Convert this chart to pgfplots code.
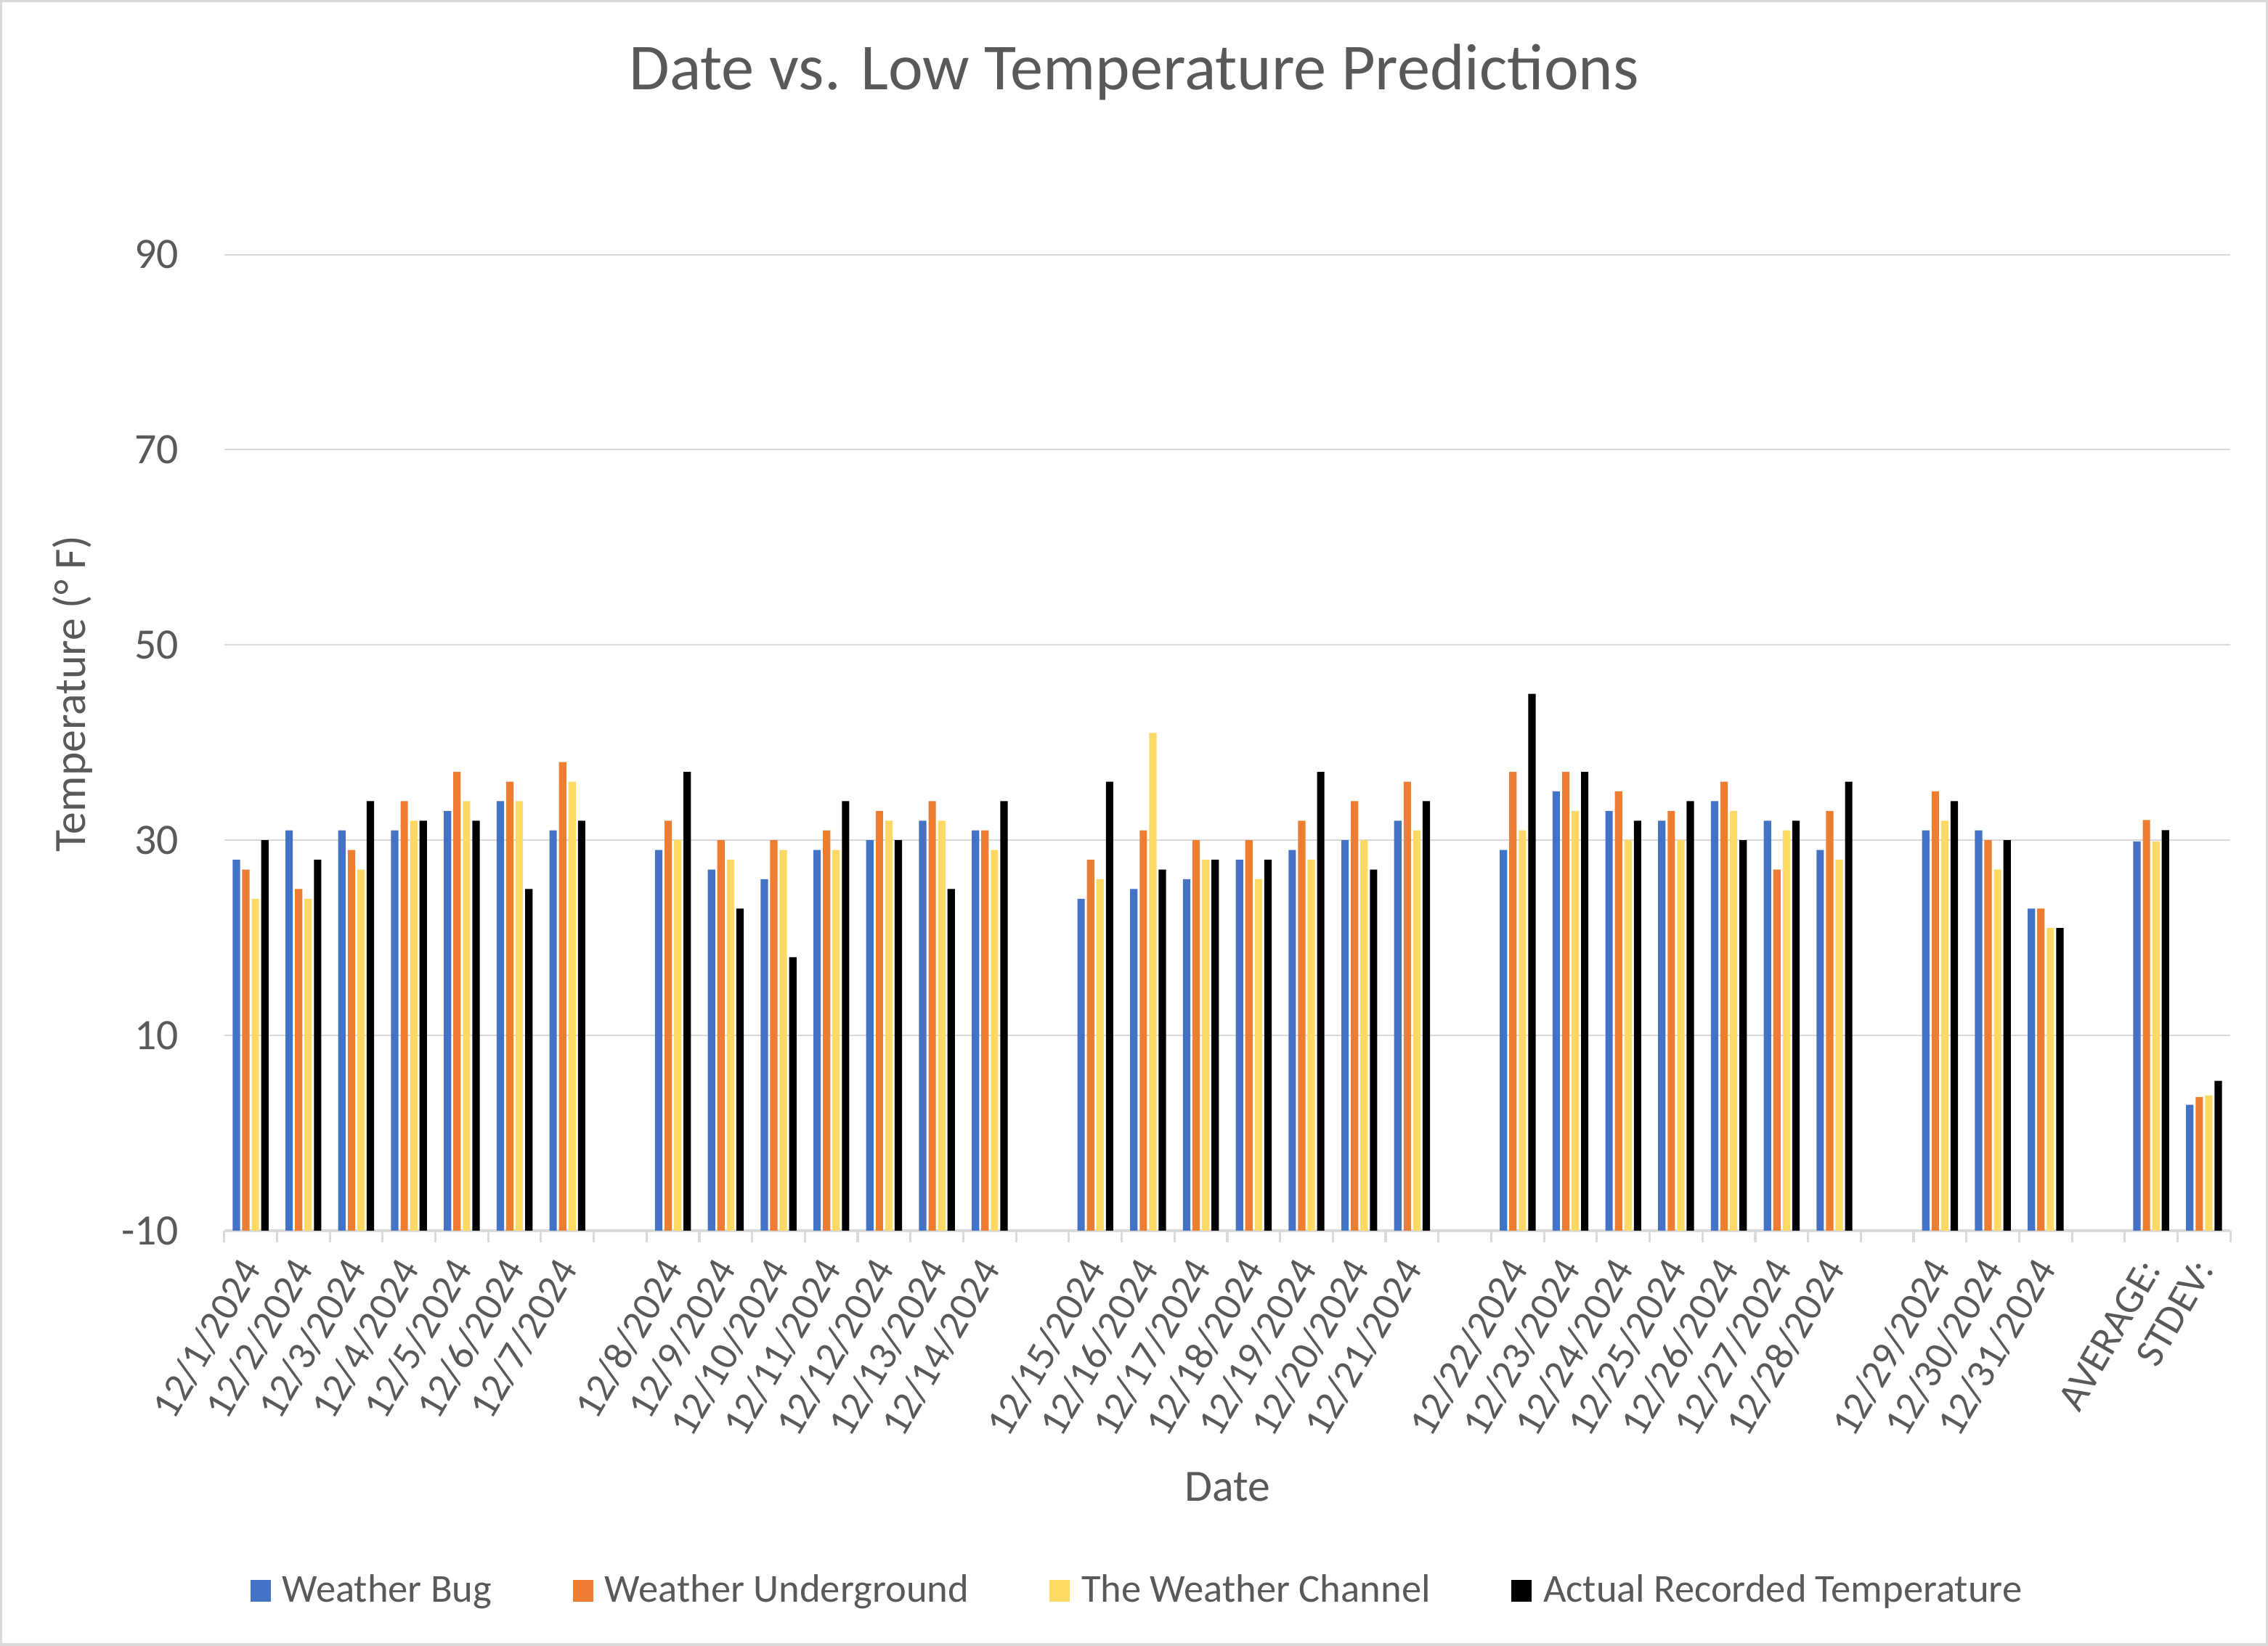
\documentclass[border=0pt]{standalone}
\usepackage{fontspec}
\setmainfont{Carlito}
\usepackage{pgfplots}
\usepackage{pgfplotstable}
\pgfplotsset{compat=1.18}

\definecolor{wbug}{HTML}{4472C4}
\definecolor{wund}{HTML}{ED7D31}
\definecolor{wchan}{HTML}{FFD966}
\definecolor{txtgray}{HTML}{595959}
\definecolor{linegray}{HTML}{D9D9D9}

\pgfplotsset{sq legend/.style={legend image code/.code={\fill[##1] (0pt,-3.75pt) rectangle (7pt,3.75pt);}}}

% x = category slot; slots 7, 15, 23, 31, 35 are empty
\pgfplotstableread{
x   bug    under  chan   actual
0   28     27     24     30
1   31     25     24     28
2   31     29     27     34
3   31     34     32     32
4   33     37     34     32
5   34     36     34     25
6   31     38     36     32
8   29     32     30     37
9   27     30     28     23
10  26     30     29     18
11  29     31     29     34
12  30     33     32     30
13  32     34     32     25
14  31     31     29     34
16  24     28     26     36
17  25     31     41     27
18  26     30     28     28
19  28     30     26     28
20  29     32     28     37
21  30     34     30     27
22  32     36     31     34
24  29     37     31     45
25  35     37     33     37
26  33     35     30     32
27  32     33     30     34
28  34     36     33     30
29  32     27     31     32
30  29     33     28     36
32  31     35     32     34
33  31     30     27     30
34  23     23     21     21
36  29.87  32.06  29.87  31.03
37  2.9    3.7    3.85   5.35
}\lowtemps

% bars rise from the axis floor (-10), so the y scale is drawn 10 higher
% and labelled back with the real temperatures
\begin{document}
\begin{tikzpicture}
\useasboundingbox (-77.5pt,-143.5pt) rectangle (706.5pt,425.5pt);
\draw[linegray, line width=0.8pt] (-77.1pt,-143.1pt) rectangle (706.1pt,425.1pt);
\begin{axis}[
    at={(0pt,0pt)}, anchor=south west,
    scale only axis,
    width=693.5pt, height=371.25pt,
    ybar, bar width=0.14,
    xmin=-0.5, xmax=37.5,
    ymin=0, ymax=110,
    axis lines*=left,
    y axis line style={draw=none},
    x axis line style={draw=linegray, line width=0.8pt},
    ymajorgrids,
    grid style={draw=linegray, line width=0.5pt},
    ytick={0,20,40,60,80,100},
    yticklabels={-10,10,30,50,70,90},
    ytick style={draw=none},
    yticklabel style={font=\fontsize{15}{18}\selectfont, text=txtgray, anchor=east, inner sep=0pt},
    yticklabel shift=15.5pt,
    xtick={0,...,37},
    xticklabels={12/1/2024,12/2/2024,12/3/2024,12/4/2024,12/5/2024,12/6/2024,12/7/2024,{},
        12/8/2024,12/9/2024,12/10/2024,12/11/2024,12/12/2024,12/13/2024,12/14/2024,{},
        12/15/2024,12/16/2024,12/17/2024,12/18/2024,12/19/2024,12/20/2024,12/21/2024,{},
        12/22/2024,12/23/2024,12/24/2024,12/25/2024,12/26/2024,12/27/2024,12/28/2024,{},
        12/29/2024,12/30/2024,12/31/2024,{},AVERAGE:,STDEV:},
    xtick style={draw=none},
    major tick length=0pt,
    minor xtick={-0.5,0.5,...,37.5},
    minor tick length=4.1pt,
    tick align=outside,
    minor x tick style={draw=linegray, line width=0.8pt},
    xticklabel style={font=\fontsize{14}{17}\selectfont, text=txtgray, inner sep=0pt,
        xshift=0pt, yshift=-11pt, rotate=60, anchor=east},
    title={Date vs. Low Temperature Predictions},
    title style={font=\fontsize{22.7}{27}\selectfont, text=txtgray,
        at={(rel axis cs:0.4535,1.0464)}, anchor=base},
    xlabel={Date},
    xlabel style={font=\fontsize{15.5}{18}\selectfont, text=txtgray,
        at={(rel axis cs:0.5,-0.2384)}, anchor=center},
    ylabel={Temperature (° F)},
    ylabel style={font=\fontsize{15.5}{18}\selectfont, text=txtgray,
        at={(rel axis cs:-0.0757,0.5)}, anchor=center},
    legend columns=4,
    legend style={draw=none, fill=none, inner sep=0pt, outer sep=0pt,
        at={(rel axis cs:0.013,-0.3354)}, anchor=west,
        font=\fontsize{13.7}{16}\selectfont, text=txtgray,
        nodes={inner sep=0pt},
        /tikz/every odd column/.append style={column sep=4pt},
        /tikz/every even column/.append style={column sep=28pt}},
]
\addplot[fill=wbug, draw=none, bar shift=-0.27, sq legend] table[x=x, y expr=\thisrow{bug}+10] {\lowtemps};
\addplot[fill=wund, draw=none, bar shift=-0.09, sq legend] table[x=x, y expr=\thisrow{under}+10] {\lowtemps};
\addplot[fill=wchan, draw=none, bar shift=0.09, sq legend] table[x=x, y expr=\thisrow{chan}+10] {\lowtemps};
\addplot[fill=black, draw=none, bar shift=0.27, sq legend] table[x=x, y expr=\thisrow{actual}+10] {\lowtemps};
\legend{Weather Bug, Weather Underground, The Weather Channel, Actual Recorded Temperature}
\end{axis}
\end{tikzpicture}
\end{document}
